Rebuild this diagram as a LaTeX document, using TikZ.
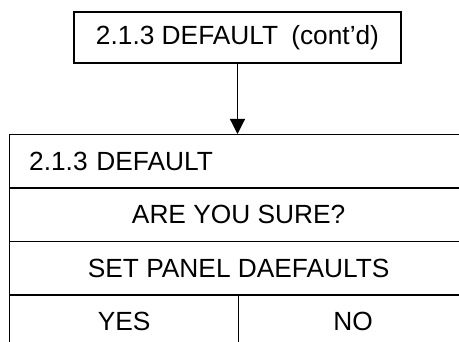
\documentclass[tikz,border=0pt]{standalone}
\usepackage{fontspec}
\setmainfont{Liberation Sans}
\usetikzlibrary{arrows.meta}
\begin{document}
\begin{tikzpicture}[x=1pt,y=-1pt,
  box/.style={draw, line width=1.3pt, inner sep=0pt, font=\fontsize{26.3}{31}\selectfont},
  cell/.style={box, anchor=north west, minimum height=53.5pt},
  conn/.style={line width=1.2pt, -{Triangle[width=15pt,length=15pt]}}]
\useasboundingbox (0,0) rectangle (459,342);
\clip (0,0) rectangle (459,342);
\node[box, minimum width=327pt, minimum height=51pt] (top) at (237.5,37.5) {2.1.3 DEFAULT\hspace{0.5em}(cont'd)};
\node[cell, text width=419pt, inner xsep=19.5pt, align=left] (r1) at (9,134) {2.1.3 DEFAULT};
\node[cell, minimum width=458pt] (r2) at (9,187.5) {ARE YOU SURE?};
\node[cell, minimum width=458pt] (r3) at (9,241) {SET PANEL DAEFAULTS};
\node[cell, minimum width=229pt] (yes) at (9,294.5) {YES};
\node[cell, minimum width=229pt] (no) at (238,294.5) {NO};
\draw[conn] (top.south) -- (r1.north -| top.south);
\end{tikzpicture}
\end{document}
